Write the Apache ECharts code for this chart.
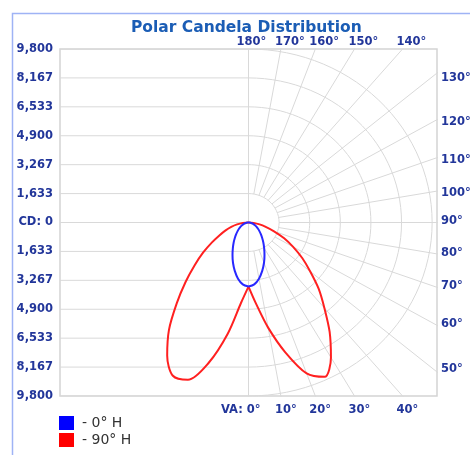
<!DOCTYPE html>
<html>
<head>
<meta charset="utf-8">
<script src="https://cdn.jsdelivr.net/npm/echarts@6/dist/echarts.min.js"></script>
<style>
  html, body { margin: 0; padding: 0; background: #fff; }
  #chart { width: 470px; height: 455px; }
</style>
</head>
<body>
<div id="chart"></div>
<script>
// vertical angle (0 = straight down) and candela per plane
const va = [0, 5, 10, 15, 20, 25, 30, 35, 40, 45, 50, 55, 60, 65, 70, 75, 80, 85, 90];
const cd0 = [3620, 3510, 3220, 2830, 2420, 2020, 1670, 1380, 1130, 930, 760, 620, 500, 400, 300, 220, 140, 70, 0];
const cd180 = [3620, 3510, 3220, 2830, 2420, 2020, 1670, 1380, 1130, 930, 760, 620, 500, 400, 300, 220, 140, 70, 0];
const cd90 = [3620, 4600, 6030, 7590, 9070, 9620, 8800, 7550, 6300, 5300, 4300, 3500, 2750, 2100, 1450, 950, 600, 280, 0];
const cd270 = [3620, 4550, 6380, 8200, 9450, 9550, 8680, 7400, 5960, 4750, 3750, 2950, 2250, 1700, 1300, 950, 620, 300, 0];

const yTicks = [9800, 8167, 6533, 4900, 3267, 1633, 0, -1633, -3267, -4900, -6533, -8167, -9800];
const yTickLabels = ['9,800', '8,167', '6,533', '4,900', '3,267', '1,633', 'CD: 0', '1,633', '3,267', '4,900', '6,533', '8,167', '9,800'];
const rings = [1633, 3267, 4900, 6533, 8167, 9800];
const spokes = [0, 10, 20, 30, 40, 50, 60, 70, 80, 90, 100, 110, 120, 130, 140, 150, 160, 170, 180];

const X_MAX = 10060;
const Y_MAX = 9800;
const labelColor = '#22369a';
const gridColor = '#d9d9d9';
const font = 'DejaVu Sans';

function rad(d) { return d * Math.PI / 180; }

// polar (angle from nadir, candela) -> x/y in candela units, side 1 = right, -1 = left
function toXY(a, c, side) {
  return [side * c * Math.sin(rad(a)), -c * Math.cos(rad(a))];
}

function curve(right, left) {
  let pts = [];
  for (let i = 0; i < va.length; i++) pts.push(toXY(va[i], right[i], 1));
  for (let i = va.length - 1; i >= 0; i--) pts.push(toXY(va[i], left[i], -1));
  return pts;
}

function gridLine(data) {
  return {
    type: 'line', data: data, silent: true, showSymbol: false, clip: true,
    lineStyle: { color: gridColor, width: 1 }, z: 1, animation: false
  };
}

let series = [];
// left half horizontal lines
yTicks.forEach(function (v) {
  series.push(gridLine([[-X_MAX, v], [0, v]]));
});
// center vertical
series.push(gridLine([[0, Y_MAX], [0, -Y_MAX]]));
// rings on the right half
rings.forEach(function (r) {
  let pts = [];
  for (let a = 0; a <= 180; a += 3) pts.push(toXY(a, r, 1));
  series.push(gridLine(pts));
});
// spokes from the first ring outwards, clipped by the grid
spokes.forEach(function (a) {
  if (a === 0 || a === 180) return;
  series.push(gridLine([toXY(a, rings[0], 1), toXY(a, 30000, 1)]));
});

// angle labels where each spoke meets the plot frame
let labelData = [];
spokes.forEach(function (a) {
  let s = Math.sin(rad(a)), c = Math.cos(rad(a));
  let r = Math.min(s > 1e-9 ? X_MAX / s : Infinity, Math.abs(c) > 1e-9 ? Y_MAX / Math.abs(c) : Infinity);
  let p = toXY(a, r, 1);
  let pos, align = 'left';
  if (Math.abs(p[1] - Y_MAX) < 1) { pos = [a === 180 ? -12 : -6, -7]; }
  else if (Math.abs(p[1] + Y_MAX) < 1) { pos = [-6, 14]; }
  else { pos = [4, a > 120 ? 5 : (a > 90 ? 2 : (a < 60 ? -3 : -1))]; }
  let text = a + '°';
  if (a === 0) { text = 'VA: 0°'; align = 'right'; pos = [12, 14]; }
  labelData.push({
    value: p,
    label: { formatter: text, offset: pos, align: align }
  });
});

series.push({
  type: 'scatter', data: labelData, symbolSize: 1, silent: true, z: 3, animation: false,
  itemStyle: { color: 'transparent', opacity: 1 },
  label: {
    show: true, position: 'inside', verticalAlign: 'middle',
    color: labelColor, fontSize: 11.5, fontWeight: 'bold', fontFamily: font
  }
});

series.push({
  name: '90° H', type: 'line', data: curve(cd90, cd270), showSymbol: false, smooth: 0.3,
  lineStyle: { color: '#ff2020', width: 2 }, itemStyle: { color: '#ff0000' }, z: 4, animation: false
});
series.push({
  name: '0° H', type: 'line', data: curve(cd0, cd180), showSymbol: false, smooth: 0.3,
  lineStyle: { color: '#2828ff', width: 2 }, itemStyle: { color: '#0000ff' }, z: 5, animation: false
});

let myChart = echarts.init(document.getElementById('chart'));
let option = {
  animation: false,
  title: {
    text: 'Polar Candela Distribution',
    left: 126, top: 15,
    textStyle: { color: '#1b5db5', fontSize: 15.5, fontWeight: 'bold', fontFamily: font }
  },
  legend: {
    data: ['0° H', '90° H'],
    orient: 'vertical', left: 59, top: 416, padding: 0,
    icon: 'rect', itemWidth: 15, itemHeight: 14, itemGap: 3,
    formatter: '- {name}',
    textStyle: { color: '#333', fontSize: 14, fontFamily: font, padding: [0, 0, 0, 3] }
  },
  graphic: [{
    type: 'rect', silent: true, z: -1,
    shape: { x: 12.5, y: 13.5, width: 520, height: 520 },
    style: { fill: 'none', stroke: '#9fb3f5', lineWidth: 1.5 }
  }],
  grid: {
    left: 60, top: 49, width: 377, height: 347,
    show: true, borderColor: '#d4d4d4', borderWidth: 1.5
  },
  xAxis: {
    type: 'value', min: -X_MAX, max: X_MAX,
    axisLine: { show: false }, axisTick: { show: false },
    axisLabel: { show: false }, splitLine: { show: false }
  },
  yAxis: {
    type: 'value', min: -Y_MAX, max: Y_MAX, interval: Y_MAX / 6,
    axisLine: { show: false }, axisTick: { show: false }, splitLine: { show: false },
    axisLabel: {
      margin: 7, color: labelColor, fontSize: 11.5, fontWeight: 'bold', fontFamily: font,
      formatter: function (v) {
        let i = Math.round((Y_MAX - v) / (Y_MAX / 6));
        return yTickLabels[i];
      }
    }
  },
  series: series
};
myChart.setOption(option);
</script>
</body>
</html>
